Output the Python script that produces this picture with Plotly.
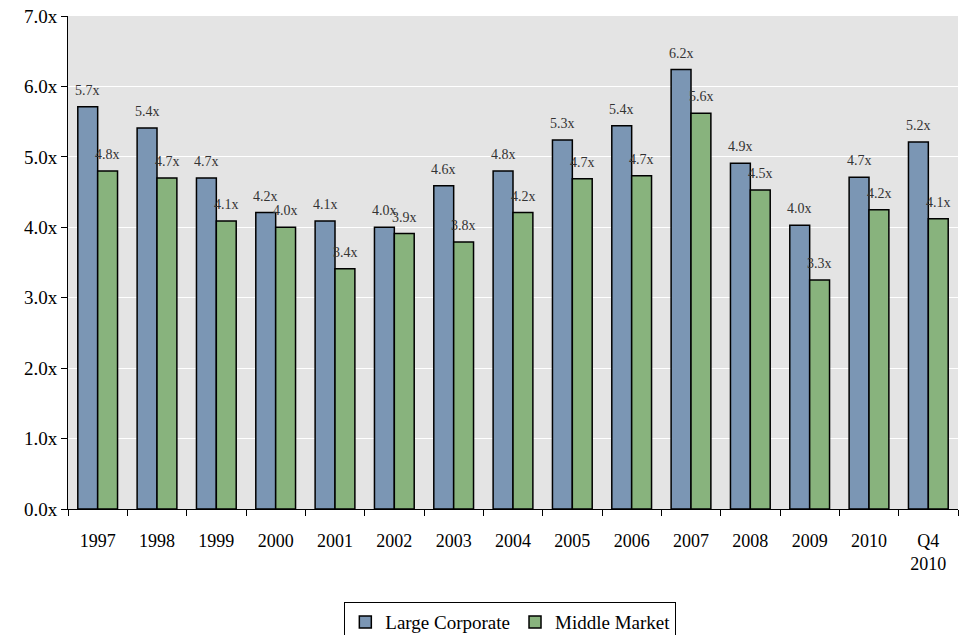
import plotly.graph_objects as go

years = ["1997", "1998", "1999", "2000", "2001", "2002", "2003", "2004",
         "2005", "2006", "2007", "2008", "2009", "2010", "Q4<br>2010"]
large_corporate = [5.71, 5.41, 4.70, 4.21, 4.09, 4.00, 4.59, 4.80,
                   5.24, 5.44, 6.24, 4.91, 4.03, 4.71, 5.21]
middle_market = [4.80, 4.70, 4.09, 4.00, 3.41, 3.91, 3.79, 4.21,
                 4.69, 4.73, 5.62, 4.53, 3.25, 4.25, 4.12]
large_labels = ["5.7x", "5.4x", "4.7x", "4.2x", "4.1x", "4.0x", "4.6x", "4.8x",
                "5.3x", "5.4x", "6.2x", "4.9x", "4.0x", "4.7x", "5.2x"]
middle_labels = ["4.8x", "4.7x", "4.1x", "4.0x", "3.4x", "3.9x", "3.8x", "4.2x",
                 "4.7x", "4.7x", "5.6x", "4.5x", "3.3x", "4.2x", "4.1x"]
y_ticks = [0, 1, 2, 3, 4, 5, 6, 7]

BLUE = "#7b96b4"
GREEN = "#88b37d"
FONT = "Liberation Serif"

fig = go.Figure()
fig.add_trace(go.Bar(
    name="Large Corporate", x=years, y=large_corporate,
    marker=dict(color=BLUE, line=dict(color="#000000", width=1.5)),
))
fig.add_trace(go.Bar(
    name="Middle Market", x=years, y=middle_market,
    marker=dict(color=GREEN, line=dict(color="#000000", width=1.5)),
))

# value labels above each bar (category axis -> annotations use the index)
for labels, values, shift in ((large_labels, large_corporate, -10),
                              (middle_labels, middle_market, 10)):
    for i, (val, txt) in enumerate(zip(values, labels)):
        fig.add_annotation(
            x=i, y=val, text=txt, showarrow=False,
            xshift=shift, yshift=7, yanchor="bottom",
            font=dict(family=FONT, size=14, color="#333333"),
        )

fig.update_layout(
    width=962, height=635,
    margin=dict(l=68, r=4, t=16, b=126, autoexpand=False),
    paper_bgcolor="white",
    plot_bgcolor="#e4e4e4",
    barmode="group",
    bargap=0.33,
    bargroupgap=0,
    font=dict(family=FONT, size=18, color="#000000"),
    showlegend=True,
    legend=dict(
        orientation="h", x=0.497, xanchor="center", y=-0.189, yanchor="top",
        bordercolor="#000000", borderwidth=1, font=dict(size=19),
        itemwidth=30, traceorder="normal",
    ),
)
fig.update_xaxes(
    type="category", range=[-0.5, len(years) - 0.5], automargin=False,
    showline=True, linecolor="#000000", linewidth=1,
    ticks="outside", tickson="boundaries", ticklen=6, tickcolor="#000000",
    ticklabelstandoff=15, tickangle=0, showgrid=False, tickfont=dict(size=18),
)
fig.update_yaxes(
    range=[0, 7], tickvals=y_ticks, automargin=False,
    ticktext=[f"{v:.1f}x" for v in y_ticks],
    showline=True, linecolor="#000000", linewidth=1,
    ticks="outside", ticklen=6, tickcolor="#000000",
    showgrid=True, gridcolor="#ffffff", gridwidth=1,
    zeroline=False, tickfont=dict(size=19),
)

# drop the default body margin so the figure sits at the window origin
fig.write_html(
    "out.html",
    config={"displayModeBar": False},
    post_script="document.body.style.margin = '0';",
)
